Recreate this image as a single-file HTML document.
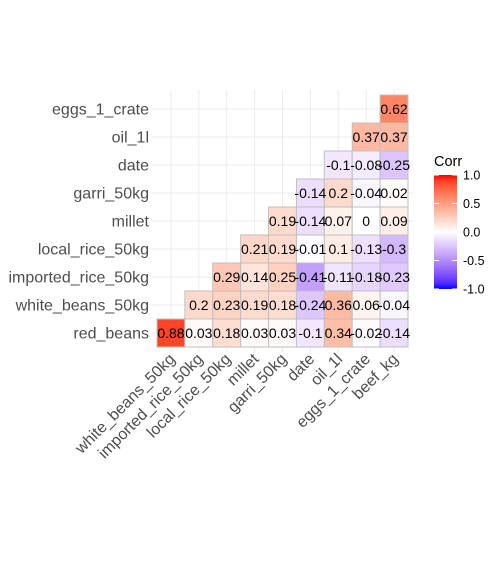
<!DOCTYPE html>
<html><head><meta charset="utf-8"><style>
body{margin:0;background:#fff;}
svg{display:block;font-family:"Liberation Sans",Arial,sans-serif;}
</style></head><body>
<svg id="chart" width="500" height="561">
<defs><linearGradient id="lg" x1="0" y1="1" x2="0" y2="0"></linearGradient></defs>
<g id="grid"></g>
<g id="tiles"></g>
<g id="ylab"></g>
<g id="xlab"></g>
<g id="legend"></g>
</svg>
<script>
const xCats = ["white_beans_50kg","imported_rice_50kg","local_rice_50kg","millet","garri_50kg","date","oil_1l","eggs_1_crate","beef_kg"];
const yCats = ["red_beans","white_beans_50kg","imported_rice_50kg","local_rice_50kg","millet","garri_50kg","date","oil_1l","eggs_1_crate"];
const rowRedBeans = [0.88,0.03,0.18,0.03,0.03,-0.1,0.34,-0.02,-0.14];
const rowWhiteBeans = [0.2,0.23,0.19,0.18,-0.24,0.36,0.06,-0.04];
const rowImportedRice = [0.29,0.14,0.25,-0.41,-0.11,-0.18,-0.23];
const rowLocalRice = [0.21,0.19,-0.01,0.1,-0.13,-0.3];
const rowMillet = [0.19,-0.14,0.07,0,0.09];
const rowGarri = [-0.14,0.2,-0.04,0.02];
const rowDate = [-0.1,-0.08,-0.25];
const rowOil = [0.37,0.37];
const rowEggs = [0.62];
const legendTicks = [1.0,0.5,0.0,-0.5,-1.0];

const rows = [rowRedBeans,rowWhiteBeans,rowImportedRice,rowLocalRice,rowMillet,rowGarri,rowDate,rowOil,rowEggs];
const NS="http://www.w3.org/2000/svg";
const X0=157, X1=408, Y0=95, Y1=347;
const cw=(X1-X0)/xCats.length, ch=(Y1-Y0)/yCats.length;
const xs=i=>X0+i*cw;
const ys=j=>Y1-(j+1)*ch;
function el(t,a,p){const e=document.createElementNS(NS,t);for(const k in a)e.setAttribute(k,a[k]);p.appendChild(e);return e;}

function toLin(c){c/=255;return c<=0.04045?c/12.92:Math.pow((c+0.055)/1.055,2.4);}
function fromLin(c){c=c<=0.0031308?12.92*c:1.055*Math.pow(c,1/2.4)-0.055;return Math.round(Math.max(0,Math.min(1,c))*255);}
function rgb2lab(r,g,b){r=toLin(r);g=toLin(g);b=toLin(b);
let X=(r*0.4124+g*0.3576+b*0.1805)/0.95047,Y=r*0.2126+g*0.7152+b*0.0722,Z=(r*0.0193+g*0.1192+b*0.9505)/1.08883;
const f=t=>t>0.008856?Math.cbrt(t):7.787*t+16/116;X=f(X);Y=f(Y);Z=f(Z);return [116*Y-16,500*(X-Y),200*(Y-Z)];}
function lab2rgb(L,a,b){let Y=(L+16)/116,X=a/500+Y,Z=Y-b/200;
const f=t=>t*t*t>0.008856?t*t*t:(t-16/116)/7.787;X=f(X)*0.95047;Y=f(Y);Z=f(Z)*1.08883;
const r=X*3.2406+Y*-1.5372+Z*-0.4986,g=X*-0.9689+Y*1.8758+Z*0.0415,bb=X*0.0557+Y*-0.2040+Z*1.0570;
return `rgb(${fromLin(r)},${fromLin(g)},${fromLin(bb)})`;}
const W=rgb2lab(255,255,255),R=rgb2lab(255,0,0),B=rgb2lab(0,0,255);
function col(v){const t=Math.abs(v),e=v>=0?R:B;return lab2rgb(W[0]+(e[0]-W[0])*t,W[1]+(e[1]-W[1])*t,W[2]+(e[2]-W[2])*t);}

const grid=document.getElementById('grid');
for(let i=0;i<xCats.length;i++){const g=el('line',{x1:xs(i)+cw/2,x2:xs(i)+cw/2,y1:Y0-5,y2:Y1+5,stroke:'#ebebeb','stroke-width':1},grid);
}
for(let j=0;j<yCats.length;j++){const g=el('line',{x1:X0-5,x2:X1+5,y1:ys(j)+ch/2,y2:ys(j)+ch/2,stroke:'#ebebeb','stroke-width':1},grid);
}

const tiles=document.getElementById('tiles');
rows.forEach((row,j)=>{row.forEach((v,k)=>{const i=j+k;
const r=el('rect',{x:xs(i),y:ys(j),width:cw,height:ch,fill:col(v),stroke:'#bfbfbf','stroke-width':1},tiles);
});});
rows.forEach((row,j)=>{row.forEach((v,k)=>{const i=j+k;
const t=el('text',{x:xs(i)+cw/2,y:ys(j)+ch/2+5,'text-anchor':'middle','font-size':'14',fill:'#000'},tiles);
t.textContent=String(v);});});

const yl=document.getElementById('ylab');
yCats.forEach((c,j)=>{const t=el('text',{x:149,y:ys(j)+ch/2+5.5,'text-anchor':'end','font-size':'16',fill:'#4d4d4d'},yl);
t.textContent=c;});
const xl=document.getElementById('xlab');
xCats.forEach((c,i)=>{const cx=xs(i)+cw/2+5,cy=Y1+13;
const t=el('text',{x:cx,y:cy,'text-anchor':'end','font-size':'16',fill:'#4d4d4d',transform:`rotate(-45 ${cx} ${cy})`},xl);
t.textContent=c;});

const lg=document.getElementById('lg');
for(let s=0;s<=20;s++){const v=-1+s*0.1;el('stop',{offset:(s/20),'stop-color':col(v)},lg);}
const leg=document.getElementById('legend');
const tt=el('text',{x:434,y:166,'font-size':'14.5',fill:'#000'},leg);tt.textContent='Corr';

const LT=175,LB=289;const ly=v=>LB-(v+1)/2*(LB-LT);
const bar=el('rect',{x:434,y:LT,width:23,height:LB-LT,fill:'url(#lg)'},leg);

legendTicks.forEach(v=>{
el('line',{x1:434,x2:439,y1:ly(v),y2:ly(v),stroke:'#fff','stroke-width':1},leg);
el('line',{x1:452,x2:457,y1:ly(v),y2:ly(v),stroke:'#fff','stroke-width':1},leg);
const t=el('text',{x:463,y:ly(v)+4.5,'font-size':'12.5',fill:'#000'},leg);t.textContent=v.toFixed(1);
});
</script>
</body></html>
